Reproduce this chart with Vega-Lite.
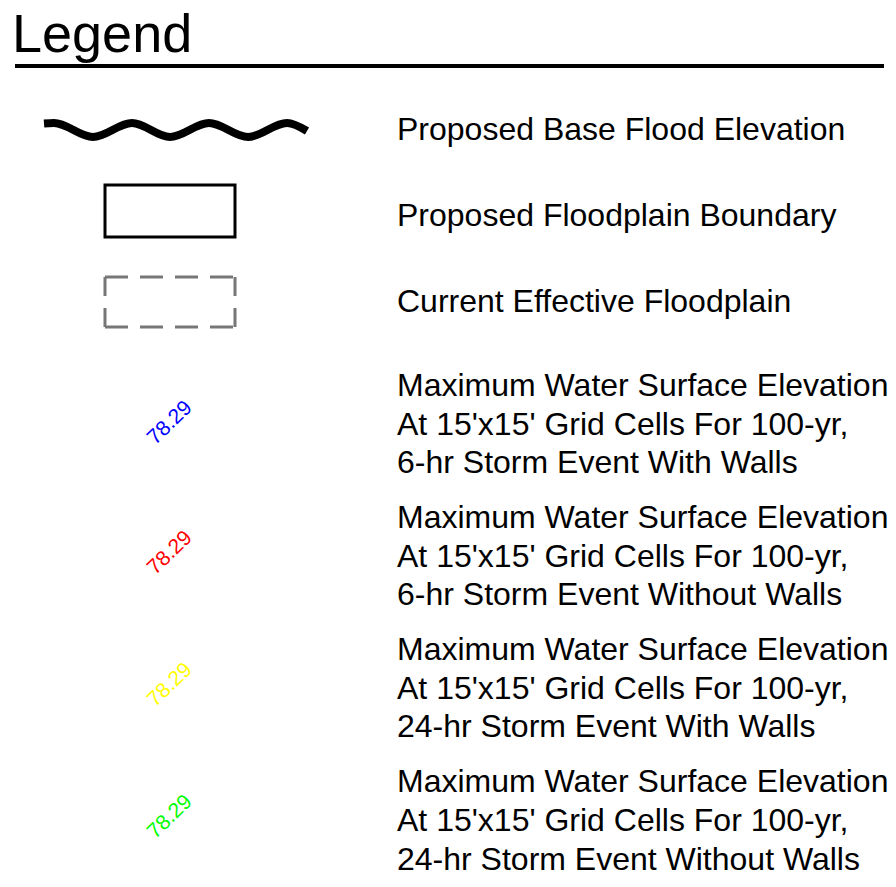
{
  "$schema": "https://vega.github.io/schema/vega-lite/v6.json",
  "autosize": {"type": "fit", "contains": "padding"},
  "width": 896,
  "height": 887,
  "padding": 0,
  "background": "white",
  "config": {"view": {"stroke": null}},
  "datasets": {
    "title": [{"x": 12, "y": 52, "label": "Legend"}],
    "underline": [{"x": 15, "x2": 884, "y": 66}],
    "wave": [
      {"x": 44, "y": 123.5},
      {"x": 54, "y": 123},
      {"x": 93, "y": 137},
      {"x": 132, "y": 123},
      {"x": 170, "y": 137},
      {"x": 209, "y": 123},
      {"x": 248, "y": 137},
      {"x": 287, "y": 123},
      {"x": 307, "y": 131}
    ],
    "box": [{"x": 105, "x2": 235, "y": 185, "y2": 237}],
    "hedges": [
      {"x": 105, "x2": 235, "y": 277},
      {"x": 105, "x2": 235, "y": 327}
    ],
    "vedges": [
      {"x": 105, "y": 277, "y2": 327},
      {"x": 235, "y": 277, "y2": 327}
    ],
    "labels": [
      {"x": 397, "y": 140, "label": "Proposed Base Flood Elevation"},
      {"x": 397, "y": 226, "label": "Proposed Floodplain Boundary"},
      {"x": 397, "y": 312, "label": "Current Effective Floodplain"},
      {"x": 397, "y": 396, "label": "Maximum Water Surface Elevation"},
      {"x": 397, "y": 435, "label": "At 15'x15' Grid Cells For 100-yr,"},
      {"x": 397, "y": 473, "label": "6-hr Storm Event With Walls"},
      {"x": 397, "y": 528, "label": "Maximum Water Surface Elevation"},
      {"x": 397, "y": 567, "label": "At 15'x15' Grid Cells For 100-yr,"},
      {"x": 397, "y": 605, "label": "6-hr Storm Event Without Walls"},
      {"x": 397, "y": 660, "label": "Maximum Water Surface Elevation"},
      {"x": 397, "y": 699, "label": "At 15'x15' Grid Cells For 100-yr,"},
      {"x": 397, "y": 737, "label": "24-hr Storm Event With Walls"},
      {"x": 397, "y": 792, "label": "Maximum Water Surface Elevation"},
      {"x": 397, "y": 831, "label": "At 15'x15' Grid Cells For 100-yr,"},
      {"x": 397, "y": 870, "label": "24-hr Storm Event Without Walls"}
    ],
    "samples": [
      {"x": 170, "y": 423, "value": "78.29", "event": "6-hr With Walls"},
      {"x": 170, "y": 553, "value": "78.29", "event": "6-hr Without Walls"},
      {"x": 170, "y": 685, "value": "78.29", "event": "24-hr With Walls"},
      {"x": 170, "y": 817, "value": "78.29", "event": "24-hr Without Walls"}
    ]
  },
  "encoding": {
    "x": {"field": "x", "type": "quantitative", "scale": {"domain": [0, 896], "nice": false, "zero": false}, "axis": null},
    "y": {"field": "y", "type": "quantitative", "scale": {"domain": [0, 887], "nice": false, "zero": false, "reverse": true}, "axis": null}
  },
  "layer": [
    {
      "data": {"name": "title"},
      "mark": {"type": "text", "align": "left", "baseline": "alphabetic", "font": "Liberation Sans", "fontSize": 54, "color": "black"},
      "encoding": {"text": {"field": "label"}}
    },
    {
      "data": {"name": "underline"},
      "mark": {"type": "rule", "strokeWidth": 4, "color": "black"},
      "encoding": {"x2": {"field": "x2"}}
    },
    {
      "data": {"name": "wave"},
      "mark": {"type": "line", "interpolate": "monotone", "strokeWidth": 8, "color": "black", "strokeCap": "butt"},
      "encoding": {"order": {"field": "x", "type": "quantitative"}}
    },
    {
      "data": {"name": "box"},
      "mark": {"type": "rect", "fill": null, "fillOpacity": 0, "stroke": "black", "strokeWidth": 3},
      "encoding": {"x2": {"field": "x2"}, "y2": {"field": "y2"}}
    },
    {
      "data": {"name": "hedges"},
      "mark": {"type": "rule", "strokeWidth": 3, "color": "#777777", "strokeDash": [23, 12]},
      "encoding": {"x2": {"field": "x2"}}
    },
    {
      "data": {"name": "vedges"},
      "mark": {"type": "rule", "strokeWidth": 3, "color": "#777777", "strokeDash": [19, 12]},
      "encoding": {"y2": {"field": "y2"}}
    },
    {
      "data": {"name": "labels"},
      "mark": {"type": "text", "align": "left", "baseline": "alphabetic", "font": "Liberation Sans", "fontSize": 32, "color": "black"},
      "encoding": {"text": {"field": "label"}}
    },
    {
      "data": {"name": "samples"},
      "mark": {"type": "text", "align": "center", "baseline": "middle", "font": "Liberation Sans", "fontSize": 21, "angle": 316},
      "encoding": {
        "text": {"field": "value"},
        "color": {
          "field": "event",
          "type": "nominal",
          "scale": {"domain": ["6-hr With Walls", "6-hr Without Walls", "24-hr With Walls", "24-hr Without Walls"], "range": ["#0000ff", "#ff0000", "#ffff00", "#00ff00"]},
          "legend": null
        }
      }
    }
  ]
}
